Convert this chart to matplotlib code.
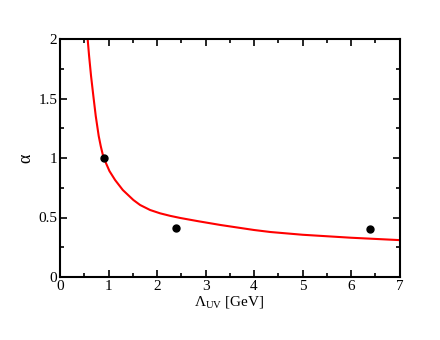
import numpy as np
import matplotlib
matplotlib.use("Agg")
import matplotlib.pyplot as plt
from matplotlib import ticker

# --- data ---
# red curve, alpha vs Lambda_UV
curve_lam = [0.57, 0.60, 0.64, 0.688, 0.737, 0.798, 0.84, 0.881, 0.95, 1.02,
             1.136, 1.295, 1.513, 1.652, 1.858, 2.065, 2.27, 2.48, 2.86, 3.31,
             4.00, 4.34, 5.00, 6.00, 7.00]
curve_alpha = [2.00, 1.857, 1.69, 1.52, 1.353, 1.185, 1.10, 1.03, 0.955, 0.89,
               0.815, 0.731, 0.647, 0.605, 0.563, 0.535, 0.514, 0.496, 0.468, 0.437,
               0.395, 0.378, 0.355, 0.33, 0.31]

# black points
pts_lam = [0.9, 2.4, 6.4]
pts_alpha = [1.0, 0.414, 0.40]

xticks = [0, 1, 2, 3, 4, 5, 6, 7]
yticks = [0, 0.5, 1, 1.5, 2]
ytick_labels = ["0", "0.5", "1", "1.5", "2"]

plt.rcParams['font.family'] = ['Liberation Serif', 'DejaVu Serif']
plt.rcParams['mathtext.fontset'] = 'custom'
plt.rcParams['mathtext.rm'] = 'Liberation Serif'
plt.rcParams['mathtext.it'] = 'Liberation Serif:italic'
plt.rcParams['xtick.direction'] = 'in'
plt.rcParams['ytick.direction'] = 'in'

fig = plt.figure(figsize=(4.4, 3.4), dpi=100)
ax = fig.add_axes([60 / 440, 63 / 340, 339.5 / 440, 238 / 340])

ax.plot(curve_lam, curve_alpha, color='red', lw=1.5, zorder=2,
        solid_joinstyle='round')
ax.plot(pts_lam, pts_alpha, 'o', color='black', ms=5, zorder=3)

ax.set_xlim(0, 7)
ax.set_ylim(0, 2)
ax.set_xticks(xticks)
ax.set_yticks(yticks)
ax.set_yticklabels(ytick_labels)
ax.xaxis.set_minor_locator(ticker.MultipleLocator(0.5))
ax.yaxis.set_minor_locator(ticker.MultipleLocator(0.25))
ax.tick_params(which='both', top=True, right=True, width=1.2, labelsize=11, pad=2)
ax.tick_params(which='major', length=5)
ax.tick_params(which='minor', length=3)
for s in ax.spines.values():
    s.set_linewidth(1.5)

ax.set_xlabel(r'$\Lambda_{\mathrm{UV}}$ [GeV]', fontsize=11, labelpad=1)
ax.set_ylabel('α', fontsize=13, labelpad=3)

fig.savefig("out.png", dpi=100)
